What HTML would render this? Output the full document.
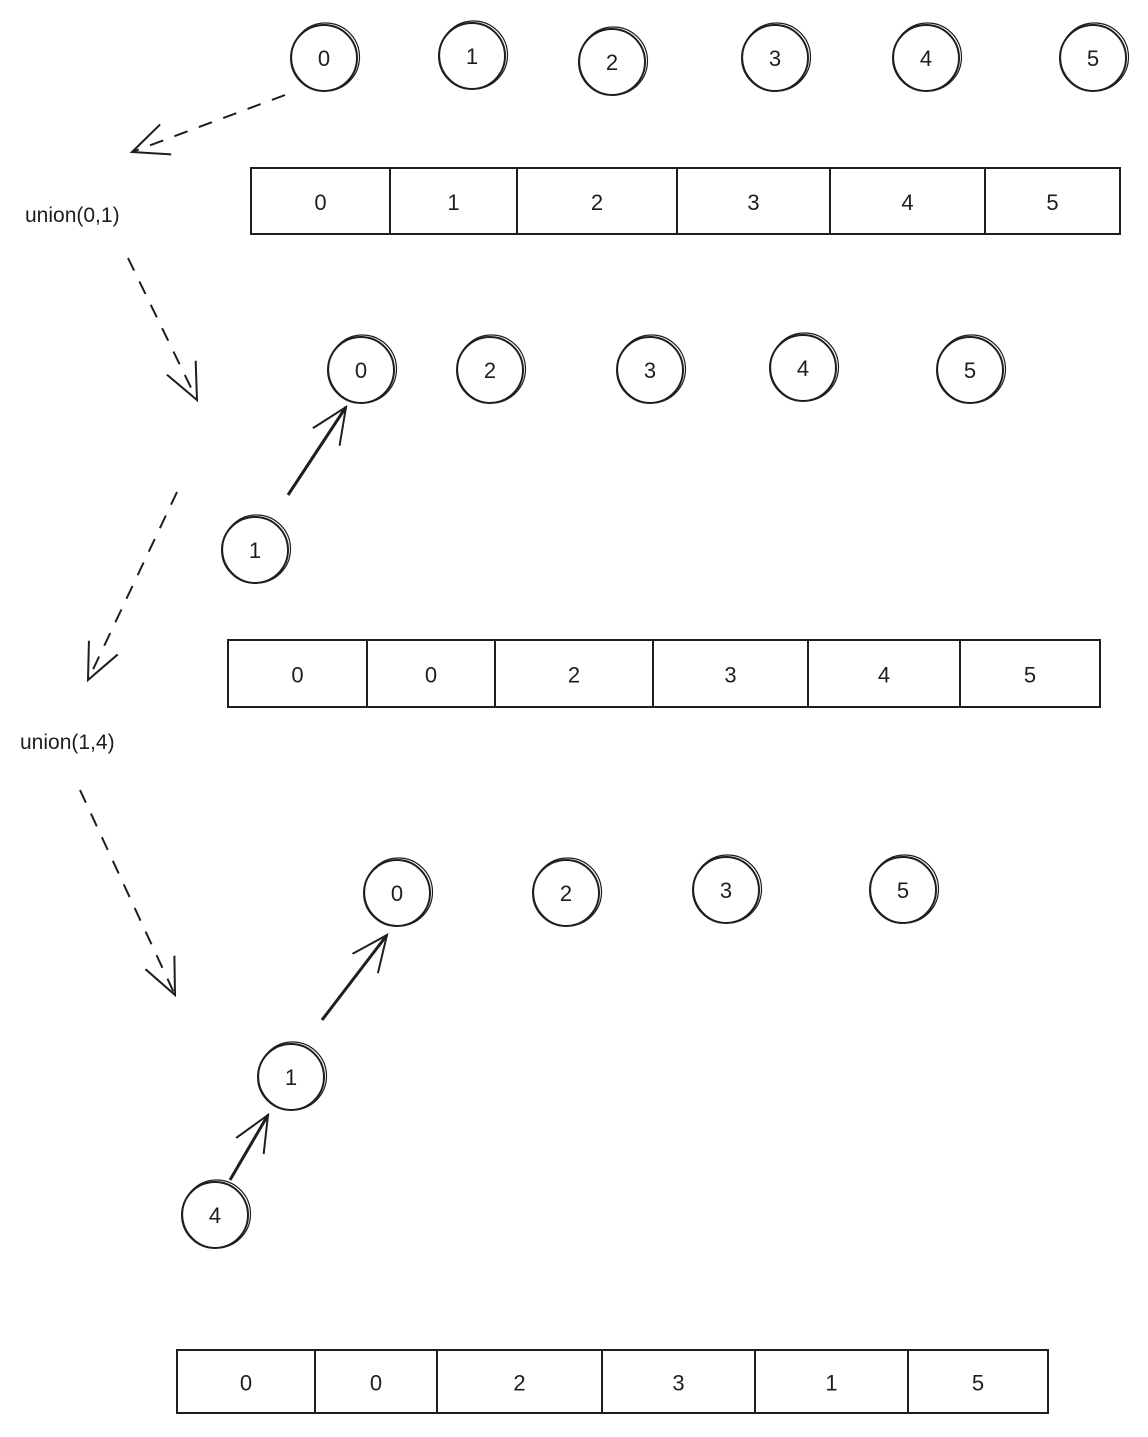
<!DOCTYPE html>
<html>
<head>
<meta charset="utf-8">
<style>
  html, body { margin: 0; padding: 0; background: #fff; }
  svg { display: block; }
  text { font-family: "Liberation Sans", sans-serif; fill: #1e1e1e; }
</style>
</head>
<body>
<svg id="diagram" width="1148" height="1437" viewBox="0 0 1148 1437" xmlns="http://www.w3.org/2000/svg">
  <defs>
    <marker id="bighead" markerWidth="40" markerHeight="40" refX="36" refY="20" orient="auto" markerUnits="userSpaceOnUse">
      <path d="M0,4 L36,20 L0,36" fill="none" stroke="#1e1e1e" stroke-width="2"/>
    </marker>
  </defs>
  <g id="layer"></g>
</svg>
<script>
const circleLabels = ["0","1","2","3","4","5","0","2","3","4","5","1","0","2","3","5","1","4"];
const circleX = [324,472,612,775,926,1093,361,490,650,803,970,255,397,566,726,903,291,215];
const circleY = [58,56,62,58,58,58,370,370,370,368,370,550,893,893,890,890,1077,1215];

const arrayValues1 = ["0","1","2","3","4","5"];
const arrayValues2 = ["0","0","2","3","4","5"];
const arrayValues3 = ["0","0","2","3","1","5"];
const arrayBoxes = [
  {x0:251, x1:1120, y0:168, y1:234, div:[390,517,677,830,985], vals:arrayValues1},
  {x0:228, x1:1100, y0:640, y1:707, div:[367,495,653,808,960], vals:arrayValues2},
  {x0:177, x1:1048, y0:1350, y1:1413, div:[315,437,602,755,908], vals:arrayValues3}
];

const NS = "http://www.w3.org/2000/svg";
const layer = document.getElementById("layer");
function mk(tag, attrs) {
  const e = document.createElementNS(NS, tag);
  for (const k in attrs) e.setAttribute(k, attrs[k]);
  layer.appendChild(e);
  return e;
}

for (let i = 0; i < circleLabels.length; i++) {
  const c = mk("circle", {cx: circleX[i], cy: circleY[i], r: 33, fill: "none", stroke: "#1e1e1e", "stroke-width": 2});
  
  
  const c2 = mk("circle", {cx: circleX[i] + 1.5, cy: circleY[i] - 1, r: 34, fill: "none", stroke: "#1e1e1e", "stroke-width": 1.2});
  
  
  const t = mk("text", {x: circleX[i], y: circleY[i] + 8, "text-anchor": "middle", "font-size": 22});
  t.textContent = circleLabels[i];
  
  
}

arrayBoxes.forEach(b => {
  const r = mk("rect", {x: b.x0, y: b.y0, width: b.x1 - b.x0, height: b.y1 - b.y0, fill: "none", stroke: "#1e1e1e", "stroke-width": 2});
  
  
  const edges = [b.x0].concat(b.div).concat([b.x1]);
  b.div.forEach(x => {
    const l = mk("line", {x1: x, y1: b.y0, x2: x, y2: b.y1, stroke: "#1e1e1e", "stroke-width": 2});
    
    
  });
  b.vals.forEach((v, i) => {
    const cx = (edges[i] + edges[i + 1]) / 2;
    const t = mk("text", {x: cx, y: (b.y0 + b.y1) / 2 + 9, "text-anchor": "middle", "font-size": 22});
    t.textContent = v;
    
    
  });
});

const dashed = [[285,95,132,152],[128,258,197,400],[177,492,88,680],[80,790,175,995]];
dashed.forEach(d => {
  const l = mk("line", {x1: d[0], y1: d[1], x2: d[2], y2: d[3], stroke: "#1e1e1e", "stroke-width": 2, "stroke-dasharray": "14 12", "marker-end": "url(#bighead)"});
  
  
});

const solid = [[288,495,346,407],[322,1020,387,935],[230,1180,268,1115]];
solid.forEach(d => {
  const l = mk("line", {x1: d[0], y1: d[1], x2: d[2], y2: d[3], stroke: "#1e1e1e", "stroke-width": 3, "marker-end": "url(#bighead)"});
  
  
});

const labels = [["union(0,1)", 25, 222], ["union(1,4)", 20, 749]];
labels.forEach(a => {
  const t = mk("text", {x: a[1], y: a[2], "font-size": 21});
  t.textContent = a[0];
  
  
});
</script>
</body>
</html>
